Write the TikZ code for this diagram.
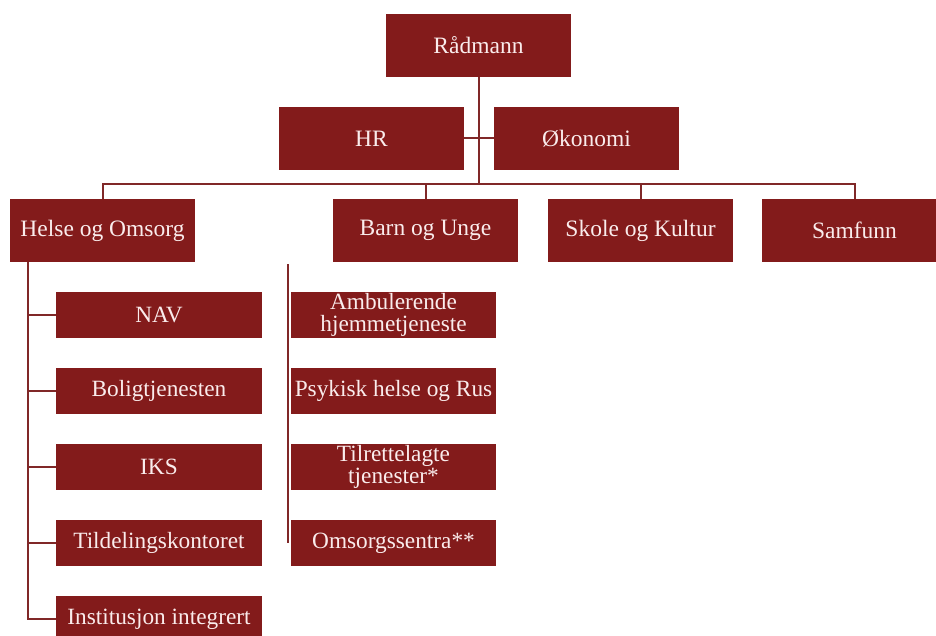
\documentclass[tikz,border=0pt]{standalone}
\usepackage{fontspec}
\setmainfont{Liberation Serif}
\definecolor{boxred}{RGB}{131,27,27}
\definecolor{linered}{RGB}{128,40,40}
\definecolor{boxtext}{RGB}{250,236,236}
\begin{document}
\begin{tikzpicture}[x=1pt,y=-1pt,
  unit/.style={fill=boxred, text=boxtext, inner sep=0pt,
    minimum width=185pt, minimum height=63pt,
    font=\fontsize{23.5}{25}\selectfont},
  sub/.style={fill=boxred, text=boxtext, inner sep=0pt,
    minimum width=206pt, minimum height=46pt, align=center,
    font=\fontsize{23.3}{22}\selectfont},
  link/.style={draw=linered, line width=2pt}]
\useasboundingbox (0,0) rectangle (936,636);
\clip (0,0) rectangle (936,636);

% top management
\node[unit] (radmann) at (478.5,45.5) {Rådmann};
\node[unit] (hr)      at (371.5,138.5) {HR};
\node[unit] (okonomi) at (586.5,138.5) {Økonomi};

% sectors
\node[unit] (helse)   at (102.5,230.5) {Helse og Omsorg};
\node[unit] (barn)    at (425.5,230.5) {Barn og Unge};
\node[unit] (skole)   at (640.5,230.5) {Skole og Kultur};
\node[unit] (samfunn) at (854.5,230.5) {Samfunn};

% units under Helse og Omsorg, first column
\node[sub] (nav)   at (159,315) {NAV};
\node[sub] (bolig) at (159,391) {Boligtjenesten};
\node[sub] (iks)   at (159,467) {IKS};
\node[sub] (tild)  at (159,543) {Tildelingskontoret};
\node[sub] (inst)  at (159,619) {Institusjon integrert};

% second column
\node[sub, minimum width=205pt] (ambu) at (393.5,315) {Ambulerende\\hjemmetjeneste};
\node[sub, minimum width=205pt] (psyk) at (393.5,391) {Psykisk helse og Rus};
\node[sub, minimum width=205pt] (tilr) at (393.5,467) {Tilrettelagte\\tjenester*};
\node[sub, minimum width=205pt] (omso) at (393.5,543) {Omsorgssentra**};

% connectors
\coordinate (bus) at (479,184);
\draw[link] (radmann.south -| bus) -- (bus);
\draw[link] (hr.east) -- (okonomi.west);
\draw[link] (helse.north) -- (helse.north |- bus) -- (samfunn.north |- bus) -- (samfunn.north);
\draw[link] (barn.north) -- (barn.north |- bus);
\draw[link] (skole.north) -- (skole.north |- bus);

\coordinate (spine) at (28,262);
\draw[link] (spine) -- (spine |- inst.west) -- (inst.west);
\foreach \n in {nav,bolig,iks,tild}
  \draw[link] (spine |- \n.west) -- (\n.west);

\coordinate (spineb) at (288,264);
\draw[link] (spineb) -- (spineb |- omso.west);
\end{tikzpicture}
\end{document}
